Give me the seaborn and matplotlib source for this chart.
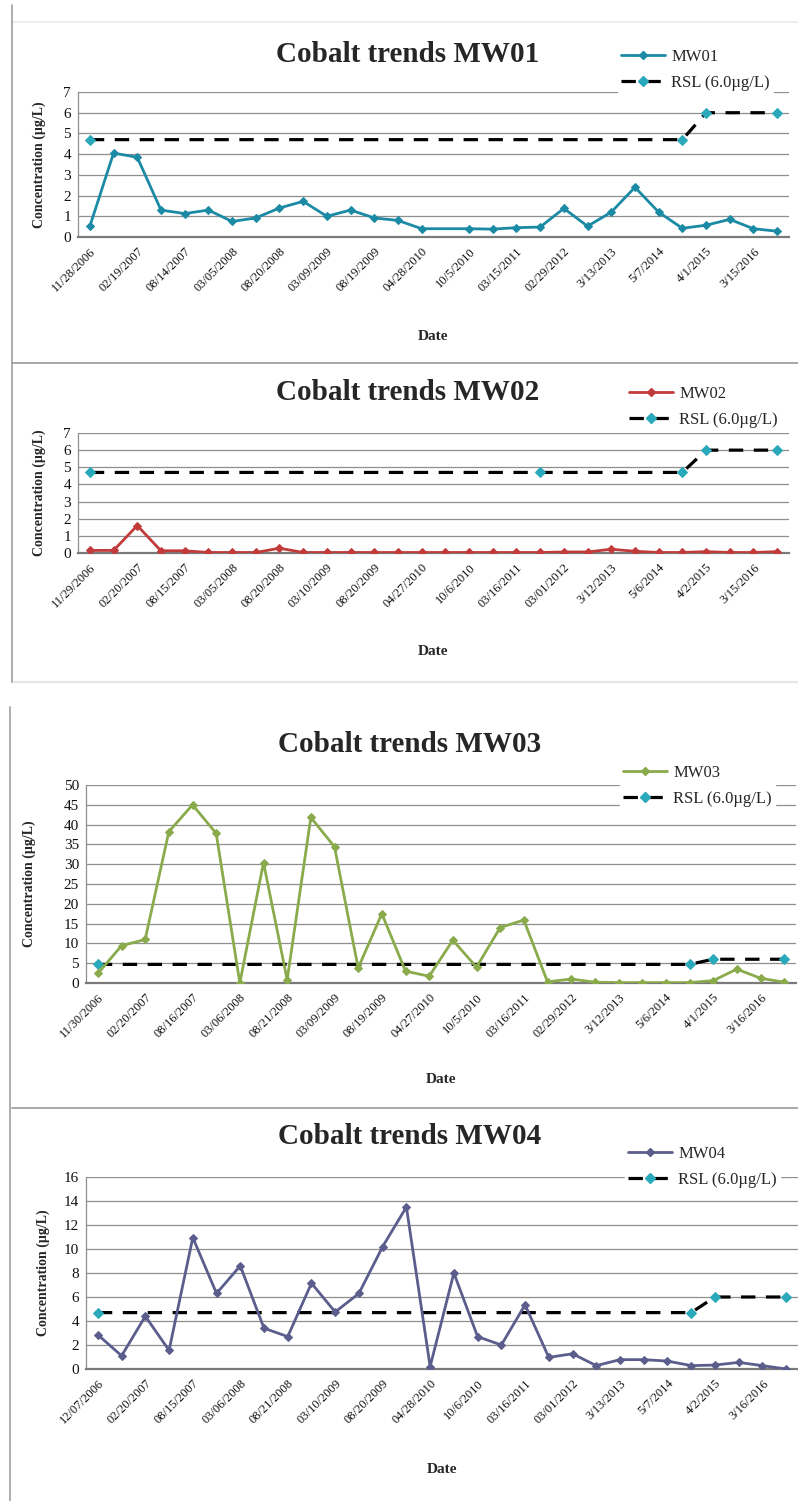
import numpy as np
import pandas as pd
import matplotlib
matplotlib.use("Agg")
import matplotlib.pyplot as plt
import seaborn as sns
from matplotlib.lines import Line2D

nan = np.nan

# ---------------- data ----------------
mw01_labels = ["11/28/2006", "02/19/2007", "08/14/2007", "03/05/2008", "08/20/2008",
               "03/09/2009", "08/19/2009", "04/28/2010", "10/5/2010", "03/15/2011",
               "02/29/2012", "3/13/2013", "5/7/2014", "4/1/2015", "3/15/2016"]
mw01_values = [0.52, 4.05, 3.85, 1.30, 1.13, 1.30, 0.75, 0.92, 1.40, 1.72,
               1.00, 1.30, 0.92, 0.80, 0.40, nan, 0.40, 0.38, 0.45, 0.48,
               1.38, 0.52, 1.20, 2.40, 1.20, 0.42, 0.57, 0.85, 0.40, 0.28]
mw01_rsl = [4.7, nan, nan, nan, nan, nan, nan, nan, nan, nan,
            nan, nan, nan, nan, nan, nan, nan, nan, nan, nan,
            nan, nan, nan, nan, nan, 4.7, 6.0, nan, nan, 6.0]

mw02_labels = ["11/29/2006", "02/20/2007", "08/15/2007", "03/05/2008", "08/20/2008",
               "03/10/2009", "08/20/2009", "04/27/2010", "10/6/2010", "03/16/2011",
               "03/01/2012", "3/12/2013", "5/6/2014", "4/2/2015", "3/15/2016"]
mw02_values = [0.15, 0.15, 1.60, 0.13, 0.13, 0.03, 0.03, 0.03, 0.28, 0.03,
               0.03, 0.03, 0.03, 0.03, 0.03, 0.03, 0.03, 0.03, 0.03, 0.03,
               0.06, 0.06, 0.22, 0.10, 0.03, 0.03, 0.08, 0.03, 0.03, 0.08]
mw02_rsl = [4.7, nan, nan, nan, nan, nan, nan, nan, nan, nan,
            nan, nan, nan, nan, nan, nan, nan, nan, nan, 4.7,
            nan, nan, nan, nan, nan, 4.7, 6.0, nan, nan, 6.0]

mw03_labels = ["11/30/2006", "02/20/2007", "08/16/2007", "03/06/2008", "08/21/2008",
               "03/09/2009", "08/19/2009", "04/27/2010", "10/5/2010", "03/16/2011",
               "02/29/2012", "3/12/2013", "5/6/2014", "4/1/2015", "3/16/2016"]
mw03_values = [2.4, 9.4, 11.0, 38.2, 45.0, 37.8, 0.0, 30.4, 0.8, 41.8,
               34.4, 3.8, 17.5, 3.0, 1.7, 10.8, 4.0, 14.0, 15.9, 0.3,
               1.0, 0.2, 0.1, 0.1, 0.1, 0.1, 0.6, 3.5, 1.2, 0.2]
mw03_rsl = [4.7, nan, nan, nan, nan, nan, nan, nan, nan, nan,
            nan, nan, nan, nan, nan, nan, nan, nan, nan, nan,
            nan, nan, nan, nan, nan, 4.7, 6.0, nan, nan, 6.0]

mw04_labels = ["12/07/2006", "02/20/2007", "08/15/2007", "03/06/2008", "08/21/2008",
               "03/10/2009", "08/20/2009", "04/28/2010", "10/6/2010", "03/16/2011",
               "03/01/2012", "3/13/2013", "5/7/2014", "4/2/2015", "3/16/2016"]
mw04_values = [2.85, 1.10, 4.40, 1.55, 10.95, 6.30, 8.60, 3.40, 2.70, 7.15,
               4.75, 6.30, 10.20, 13.50, 0.20, 8.00, 2.70, 2.00, 5.35, 0.97,
               1.27, 0.28, 0.78, 0.78, 0.66, 0.28, 0.33, 0.55, 0.28, 0.00]
mw04_rsl = [4.7, nan, nan, nan, nan, nan, nan, nan, nan, nan,
            nan, nan, nan, nan, nan, nan, nan, nan, nan, nan,
            nan, nan, nan, nan, nan, 4.7, 6.0, nan, nan, 6.0]

well_names = ["MW01", "MW02", "MW03", "MW04"]
rsl_label = "RSL (6.0µg/L)"

# ---------------- style ----------------
sns.set_style("white")
SERIF = ["Liberation Serif", "DejaVu Serif"]
plt.rcParams["font.family"] = SERIF

W, H = 798, 1501
fig = plt.figure(figsize=(W / 100, H / 100), dpi=100)
fig.patch.set_facecolor("white")

def fx(px):
    return px / W

def fy(py):
    return 1 - py / H

RSL_MARK = "#2aa9ba"
GRID = "#8f8f8f"
DASH = (4.5, 3.3)

panels = [
    dict(name="MW01", labels=mw01_labels, values=mw01_values, rsl=mw01_rsl,
         color="#1b8aa5", ylim=7, ystep=1,
         box=(78, 789, 92, 237), title_y=60, title_x=408, leg=(618, 70),
         ylab_x=46, date_y=330),
    dict(name="MW02", labels=mw02_labels, values=mw02_values, rsl=mw02_rsl,
         color="#c23b3b", ylim=7, ystep=1,
         box=(78, 789, 433, 553), title_y=398, title_x=408, leg=(626, 407),
         ylab_x=46, date_y=645),
    dict(name="MW03", labels=mw03_labels, values=mw03_values, rsl=mw03_rsl,
         color="#8aab4c", ylim=50, ystep=5,
         box=(86, 796, 785, 983), title_y=750, title_x=410, leg=(620, 786),
         ylab_x=36, date_y=1073),
    dict(name="MW04", labels=mw04_labels, values=mw04_values, rsl=mw04_rsl,
         color="#5b5e8c", ylim=16, ystep=2,
         box=(86, 798, 1177, 1369), title_y=1142, title_x=410, leg=(625, 1167),
         ylab_x=50, date_y=1463),
]

for p in panels:
    l, r, t, b = p["box"]
    ax = fig.add_axes([fx(l), fy(b), fx(r - l), (b - t) / H])
    n = len(p["values"])
    x = np.arange(n)

    df = pd.DataFrame({"x": x, "y": p["values"]}).dropna()
    sns.lineplot(data=df, x="x", y="y", ax=ax, color=p["color"], lw=2.0,
                 marker="D", markersize=4.5, estimator=None, sort=False,
                 legend=False, zorder=4)
    ln = ax.lines[-1]
    ln.set_markerfacecolor(p["color"])
    ln.set_markeredgecolor(p["color"])

    dr = pd.DataFrame({"x": x, "y": p["rsl"]}).dropna()
    sns.lineplot(data=dr, x="x", y="y", ax=ax, color="black", lw=2.3,
                 marker="D", markersize=5, estimator=None, sort=False,
                 legend=False, zorder=3)
    lr = ax.lines[-1]
    lr.set_dashes(DASH)
    lr.set_markerfacecolor(RSL_MARK)
    lr.set_markeredgecolor(RSL_MARK)

    ax.set_xlim(-0.5, n - 0.5)
    ax.set_ylim(0, p["ylim"])
    yt = np.arange(0, p["ylim"] + 0.01, p["ystep"])
    ax.set_yticks(yt)
    ax.set_yticklabels([f"{v:g}" for v in yt], fontsize=11, color="#111111")
    ax.set_xticks(np.arange(0, n, 2))
    ax.set_xticklabels(p["labels"], rotation=45, ha="right",
                       rotation_mode="anchor", fontsize=9, color="#111111")
    ax.set_xticks(np.arange(n), minor=True)
    ax.tick_params(axis="x", which="both", length=3, color=GRID, pad=3)
    ax.tick_params(axis="y", length=3, color=GRID, pad=2)
    ax.grid(axis="y", color=GRID, lw=0.9)
    ax.set_axisbelow(True)
    for s in ["top", "right"]:
        ax.spines[s].set_visible(False)
    ax.spines["left"].set_color(GRID)
    ax.spines["left"].set_linewidth(0.9)
    ax.spines["bottom"].set_color("#7a7a7a")
    ax.spines["bottom"].set_linewidth(1.6)

    ax.set_ylabel("Concentration (µg/L)", fontsize=10, fontweight="bold")
    ax.yaxis.set_label_coords((p["ylab_x"] - l) / (r - l), 0.5)
    ax.set_xlabel("Date", fontsize=11, fontweight="bold")
    ax.xaxis.set_label_coords(0.5, -(p["date_y"] - b) / (b - t))

    ax.set_title("Cobalt trends " + p["name"], fontsize=21, fontweight="bold",
                 x=(p["title_x"] - l) / (r - l), y=(b - p["title_y"]) / (b - t),
                 va="center_baseline")

    handles = [
        Line2D([], [], color=p["color"], lw=2.0, marker="D", markersize=4.5,
               markerfacecolor=p["color"], markeredgecolor=p["color"]),
        Line2D([], [], color="black", lw=2.3, dashes=DASH, marker="D",
               markersize=5, markerfacecolor=RSL_MARK, markeredgecolor=RSL_MARK),
    ]
    lx, ly = p["leg"]
    fig.legend(handles, [p["name"], rsl_label], loc="center left",
               bbox_to_anchor=(fx(lx), fy(ly)), bbox_transform=fig.transFigure,
               frameon=True, facecolor="white", edgecolor="white", framealpha=1,
               fontsize=12, handlelength=2.6, handletextpad=0.4,
               labelspacing=0.6, borderpad=0.2, borderaxespad=0)

# panel frame lines (scanned document boxes)
def hline(y, x0, x1, color, lw):
    fig.add_artist(Line2D([fx(x0), fx(x1)], [fy(y), fy(y)], color=color, lw=lw,
                          transform=fig.transFigure))

def vline(x, y0, y1, color, lw):
    fig.add_artist(Line2D([fx(x), fx(x)], [fy(y0), fy(y1)], color=color, lw=lw,
                          transform=fig.transFigure))

hline(22, 12, 798, "#eeeeee", 1.5)
hline(363, 12, 798, "#9a9a9a", 1.2)
hline(682, 12, 798, "#e6e6e6", 1.5)
hline(1108, 12, 798, "#9a9a9a", 1.2)
vline(12, 5, 682, "#a0a0a0", 1.2)
vline(10, 707, 1501, "#a0a0a0", 1.2)

fig.savefig("out.png", dpi=100, facecolor="white")
